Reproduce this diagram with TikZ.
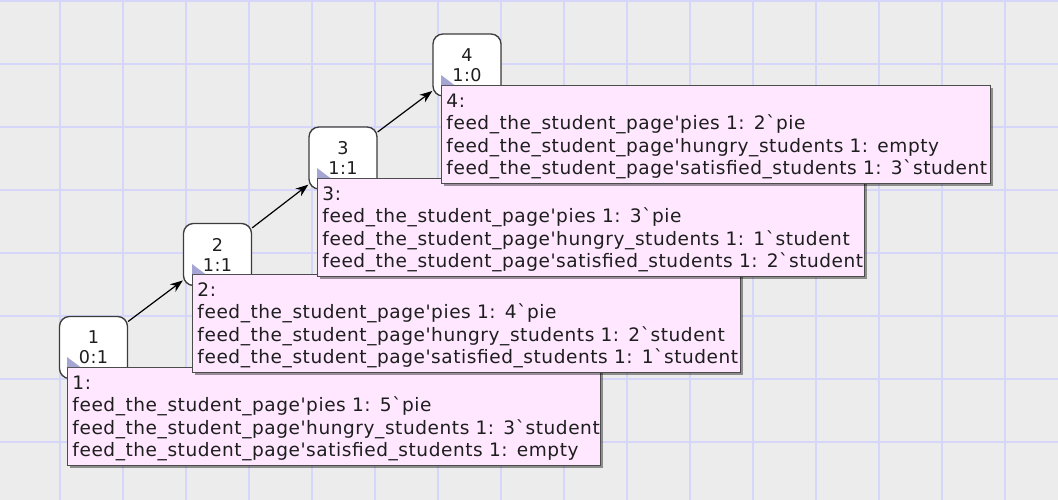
\documentclass[tikz,border=0pt]{standalone}
\usepackage{fontspec}
\newfontfamily\lab{DejaVu Sans}[LetterSpace=3]
\newfontfamily\nlab{DejaVu Sans}[LetterSpace=3]
\usetikzlibrary{arrows.meta,shadows}
\definecolor{bg}{RGB}{236,236,236}
\definecolor{gridc}{RGB}{214,214,250}
\definecolor{labfill}{RGB}{255,232,255}
\definecolor{tri}{RGB}{165,165,212}
\definecolor{nodeborder}{RGB}{60,60,60}
\definecolor{txt}{RGB}{30,30,30}
\newcommand\labtext[4]{\rule{0pt}{13pt}\mbox{#1}\\\mbox{#2}\\\mbox{#3}\\\mbox{#4}}
\begin{document}
\begin{tikzpicture}[x=0.75pt,y=-0.75pt,
 statebox/.style={draw=nodeborder, fill=white, rounded corners=7.5pt, line width=1pt,
   minimum width=51pt, minimum height=46.5pt, inner sep=0pt, align=center,
   font=\nlab\fontsize{13.2}{15}\selectfont, text=txt},
 labelbox/.style={draw=black!70, fill=labfill, line width=0.7pt, anchor=north west,
   inner xsep=3.75pt, inner ysep=0pt, align=left, minimum height=73.5pt,
   font=\lab\fontsize{13.9}{16.8}\selectfont, text=txt,
   drop shadow={shadow xshift=2.2pt, shadow yshift=-2.2pt, fill=black, opacity=0.4}},
 arr/.style={-{Stealth[length=9.5pt,width=7pt,inset=3pt]}, line width=0.9pt, black},
 tricorner/.style={fill=tri}]
\useasboundingbox (0,0) rectangle (1058,500);
\fill[bg] (0,0) rectangle (1058,500);
\foreach \x in {-3,60,...,1058} \draw[gridc, line width=1.5pt] (\x,0) -- (\x,500);
\foreach \y in {1,64,...,500} \draw[gridc, line width=1.5pt] (0,\y) -- (1058,\y);

\node[statebox] (n1) at (93.5,347.5) {1\\0:1};
\node[statebox] (n2) at (217.5,254.5) {2\\1:1};
\node[statebox] (n3) at (343,158) {3\\1:1};
\node[statebox] (n4) at (467,65) {4\\1:0};

\draw[arr] (n1) -- (n2);
\draw[arr] (n2) -- (n3);
\draw[arr] (n3) -- (n4);

\node[labelbox, text width=392.25pt] (l1) at (67,367) {\labtext{1:}{feed\_the\_student\_page'pies 1: 5`pie}{feed\_the\_student\_page'hungry\_students 1: 3`student}{feed\_the\_student\_page'satisfied\_students 1: empty}};
\fill[tricorner] ([yshift=7.5pt]l1.north west) -- (l1.north west) -- ([xshift=10pt]l1.north west) -- cycle;

\node[labelbox, text width=403.5pt] (l2) at (192,274) {\labtext{2:}{feed\_the\_student\_page'pies 1: 4`pie}{feed\_the\_student\_page'hungry\_students 1: 2`student}{feed\_the\_student\_page'satisfied\_students 1: 1`student}};
\fill[tricorner] ([yshift=7.5pt]l2.north west) -- (l2.north west) -- ([xshift=10pt]l2.north west) -- cycle;

\node[labelbox, text width=402.75pt] (l3) at (317,178) {\labtext{3:}{feed\_the\_student\_page'pies 1: 3`pie}{feed\_the\_student\_page'hungry\_students 1: 1`student}{feed\_the\_student\_page'satisfied\_students 1: 2`student}};
\fill[tricorner] ([yshift=7.5pt]l3.north west) -- (l3.north west) -- ([xshift=10pt]l3.north west) -- cycle;

\node[labelbox, text width=404.25pt] (l4) at (441,85) {\labtext{4:}{feed\_the\_student\_page'pies 1: 2`pie}{feed\_the\_student\_page'hungry\_students 1: empty}{feed\_the\_student\_page'satisfied\_students 1: 3`student}};
\fill[tricorner] ([yshift=7.5pt]l4.north west) -- (l4.north west) -- ([xshift=10pt]l4.north west) -- cycle;
\end{tikzpicture}
\end{document}
